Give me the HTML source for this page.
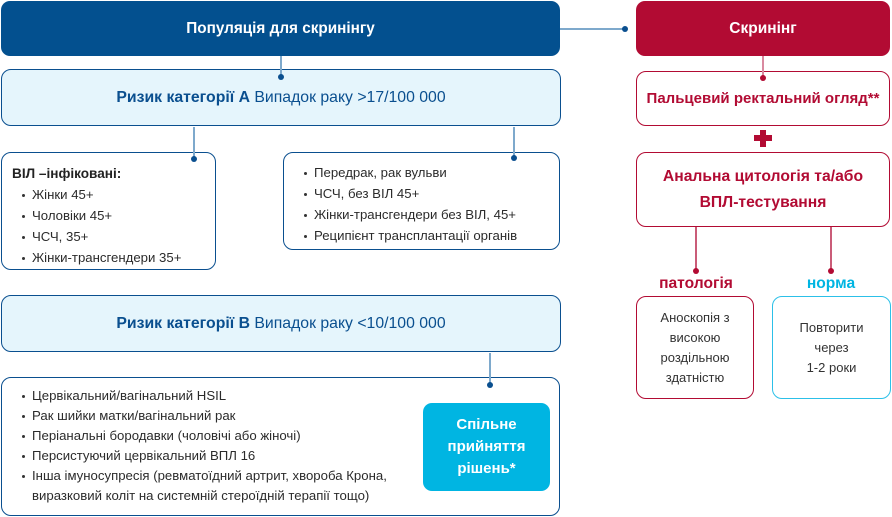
<!DOCTYPE html>
<html><head><meta charset="utf-8">
<style>
*{margin:0;padding:0;box-sizing:border-box}
html,body{width:892px;height:517px;background:#fff;overflow:hidden}
body{position:relative;font-family:"Liberation Sans","DejaVu Sans",sans-serif;color:#2b2b2b}
.b{position:absolute}
.c{display:flex;align-items:center;justify-content:center;text-align:center}
.dk{background:#03508f;color:#fff;font-weight:bold;font-size:15.3px;border-radius:9px}
.rd{background:#b20b33;color:#fff;font-weight:bold;font-size:15.5px;border-radius:9px}
.lb{background:#e5f5fc;border:1.5px solid #0a4f8f;border-radius:10px;color:#0a4f8f;font-size:15.8px}
.wb{background:#fff;border:1.5px solid #0a4f8f;border-radius:10px}
.wr{background:#fff;border:1.5px solid #b20b33;border-radius:10px}
.wc{background:#fff;border:1.5px solid #2cc0e8;border-radius:10px}
.ln{position:absolute;font-size:13.2px;white-space:nowrap;line-height:20px;height:20px}
.bu{position:absolute;font-size:13.2px;white-space:nowrap;line-height:20px;height:20px}
.bu:before{content:"";position:absolute;left:-10px;top:9px;width:3px;height:3px;border-radius:50%;background:#333}
svg{position:absolute;left:0;top:0}
</style></head><body>

<!-- top boxes -->
<div class="b c dk" style="left:1px;top:1px;width:559px;height:55px;">Популяція для скринінгу</div>
<div class="b c rd" style="left:636px;top:1px;width:254px;height:55px;">Скринінг</div>

<!-- risk A -->
<div class="b c lb" style="left:1px;top:69px;width:560px;height:57px;"><span><b>Ризик категорії А</b> Випадок раку &gt;17/100 000</span></div>

<!-- HIV box -->
<div class="b wb" style="left:1px;top:152px;width:215px;height:118px;"></div>
<div class="ln" style="left:12px;top:164px;font-weight:bold;color:#222;font-size:13.6px;">ВІЛ –інфіковані:</div>
<div class="bu" style="left:32px;top:185px;">Жінки 45+</div>
<div class="bu" style="left:32px;top:206px;">Чоловіки 45+</div>
<div class="bu" style="left:32px;top:227px;">ЧСЧ, 35+</div>
<div class="bu" style="left:32px;top:248px;">Жінки-трансгендери 35+</div>

<!-- right list box -->
<div class="b wb" style="left:283px;top:152px;width:277px;height:98px;"></div>
<div class="bu" style="left:314px;top:163px;">Передрак, рак вульви</div>
<div class="bu" style="left:314px;top:184px;">ЧСЧ, без ВІЛ 45+</div>
<div class="bu" style="left:314px;top:205px;">Жінки-трансгендери без ВІЛ, 45+</div>
<div class="bu" style="left:314px;top:226px;">Реципієнт трансплантації органів</div>

<!-- risk B -->
<div class="b c lb" style="left:1px;top:295px;width:560px;height:57px;"><span><b>Ризик категорії В</b> Випадок раку &lt;10/100 000</span></div>

<!-- bottom box -->
<div class="b wb" style="left:1px;top:377px;width:559px;height:139px;"></div>
<div class="bu" style="left:32px;top:386px;">Цервікальний/вагінальний HSIL</div>
<div class="bu" style="left:32px;top:406px;">Рак шийки матки/вагінальний рак</div>
<div class="bu" style="left:32px;top:426px;">Періанальні бородавки (чоловічі або жіночі)</div>
<div class="bu" style="left:32px;top:446px;">Персистуючий цервікальний ВПЛ 16</div>
<div class="bu" style="left:32px;top:466px;">Інша імуносупресія (ревматоїдний артрит, хвороба Крона,</div>
<div class="ln" style="left:32px;top:486px;">виразковий коліт на системній стероїдній терапії тощо)</div>

<div class="b c" style="left:423px;top:403px;width:127px;height:88px;background:#00b5e2;border-radius:9px;color:#fff;font-weight:bold;font-size:15px;line-height:22px;">Спільне<br>прийняття<br>рішень*</div>

<!-- right column -->
<div class="b c wr" style="left:636px;top:71px;width:254px;height:55px;color:#b20b33;font-weight:bold;font-size:15px;">Пальцевий ректальний огляд**</div>
<div class="b c wr" style="left:636px;top:152px;width:254px;height:75px;color:#b20b33;font-weight:bold;font-size:15.7px;line-height:26px;">Анальна цитологія та/або<br>ВПЛ-тестування</div>

<div class="b" style="left:636px;top:274px;width:120px;text-align:center;color:#b20b33;font-weight:bold;font-size:15.6px;line-height:20px;">патологія</div>
<div class="b" style="left:771px;top:274px;width:120px;text-align:center;color:#00b5e2;font-weight:bold;font-size:15.6px;line-height:20px;">норма</div>

<div class="b c wr" style="left:636px;top:296px;width:118px;height:103px;font-size:13px;line-height:20px;color:#333;">Аноскопія з<br>високою<br>роздільною<br>здатністю</div>
<div class="b c wc" style="left:772px;top:296px;width:119px;height:103px;font-size:13px;line-height:20px;color:#333;">Повторити<br>через<br>1-2 роки</div>

<svg width="892" height="517" viewBox="0 0 892 517">
  <g stroke="#7ea9cc" stroke-width="2" fill="none">
    <line x1="560" y1="29" x2="625" y2="29"/>
    <line x1="281" y1="56" x2="281" y2="77"/>
    <line x1="194" y1="127" x2="194" y2="159"/>
    <line x1="514" y1="127" x2="514" y2="158"/>
    <line x1="490" y1="353" x2="490" y2="385"/>
  </g>
  <g fill="#0a4f8f">
    <circle cx="625" cy="29" r="3"/>
    <circle cx="281" cy="77" r="3"/>
    <circle cx="194" cy="159" r="3"/>
    <circle cx="514" cy="158" r="3"/>
    <circle cx="490" cy="385" r="3"/>
  </g>
  <line x1="763" y1="56" x2="763" y2="78" stroke="#d98aa0" stroke-width="2"/>
  <g stroke="#b8264a" stroke-width="1.5">
    <line x1="696" y1="227" x2="696" y2="271"/>
    <line x1="831" y1="227" x2="831" y2="271"/>
  </g>
  <g fill="#b20b33">
    <circle cx="763" cy="78" r="3"/>
    <circle cx="696" cy="271" r="3"/>
    <circle cx="831" cy="271" r="3"/>
    <rect x="754" y="135" width="18" height="6"/>
    <rect x="760" y="130" width="6" height="17"/>
  </g>
</svg>
</body></html>
